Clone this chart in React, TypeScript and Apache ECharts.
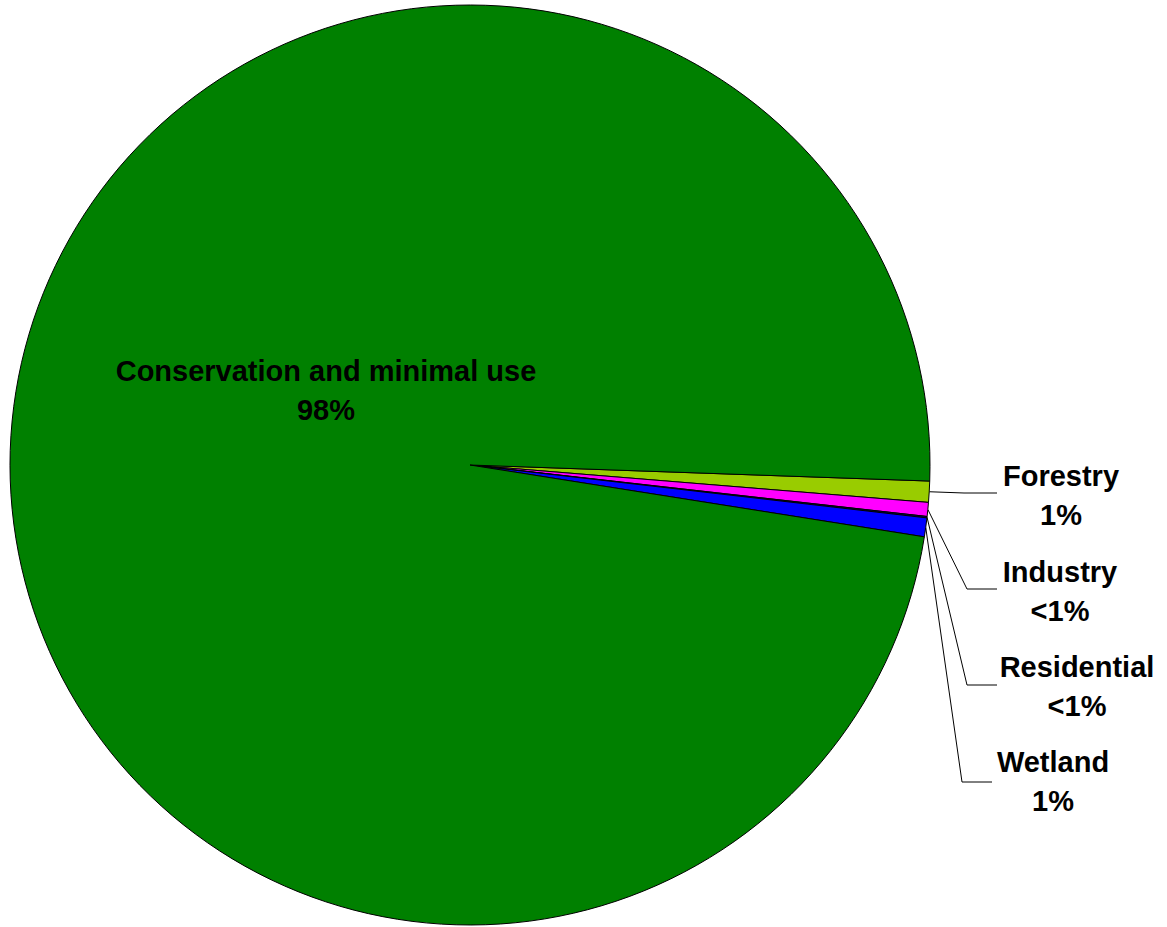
import React, { useEffect, useRef } from "react";
import * as echarts from "echarts";

// Land use shares (percent of total area)
const categories = [
  "Forestry",
  "Industry",
  "Residential",
  "Wetland",
  "Conservation and minimal use",
];
const shares = [0.74, 0.49, 0.05, 0.66, 98.06];
const colors = ["#99CC00", "#FF00FF", "#000080", "#0000FF", "#008000"];

// Where each label block sits, and the elbow of its leader line
const labelCenters: [number, number][] = [
  [1061, 495],
  [1060, 591],
  [1077, 686],
  [1053, 781],
  [326, 390],
];
const elbows: ([number, number] | null)[] = [
  [964, 493],
  [967, 589],
  [967, 685],
  [962, 782],
  null,
];
const lineEnds: ([number, number] | null)[] = [
  [997, 493],
  [997, 589],
  [997, 685],
  [992, 782],
  null,
];

const pctText = (v: number) => (v < 0.5 ? "<1%" : `${Math.round(v)}%`);

export default function App() {
  const ref = useRef<HTMLDivElement>(null);

  useEffect(() => {
    document.body.style.margin = "0";
    if (!ref.current) return;
    const chart = echarts.init(ref.current, null, { renderer: "svg" });

    const data = categories.map((name, i) => ({
      name,
      value: shares[i],
      itemStyle: { color: colors[i] },
      labelLine: { show: elbows[i] !== null },
    }));

    chart.setOption({
      animation: false,
      backgroundColor: "#ffffff",
      series: [
        {
          type: "pie",
          center: [470, 465],
          radius: 460,
          startAngle: -2,
          clockwise: true,
          avoidLabelOverlap: false,
          data,
          itemStyle: { borderColor: "#000000", borderWidth: 1 },
          label: {
            show: true,
            position: "outside",
            formatter: (p: any) => `${p.name}\n${pctText(p.value)}`,
            color: "#000000",
            fontFamily: "Arial, 'Liberation Sans', sans-serif",
            fontWeight: "bold",
            fontSize: 29,
            lineHeight: 39,
            align: "center",
          },
          labelLine: {
            show: true,
            length: 20,
            length2: 30,
            lineStyle: { color: "#000000", width: 1 },
          },
          labelLayout: (params: any) => {
            const i = params.dataIndex;
            const [x, y] = labelCenters[i];
            const res: any = { x, y, align: "center", verticalAlign: "middle" };
            const elbow = elbows[i];
            const end = lineEnds[i];
            if (elbow && end && params.labelLinePoints) {
              res.labelLinePoints = [params.labelLinePoints[0], elbow, end];
            }
            return res;
          },
        },
      ],
    });

    return () => chart.dispose();
  }, []);

  return (
    <div
      ref={ref}
      style={{
        position: "absolute",
        left: 0,
        top: 0,
        width: 1167,
        height: 927,
        background: "#ffffff",
      }}
    />
  );
}
